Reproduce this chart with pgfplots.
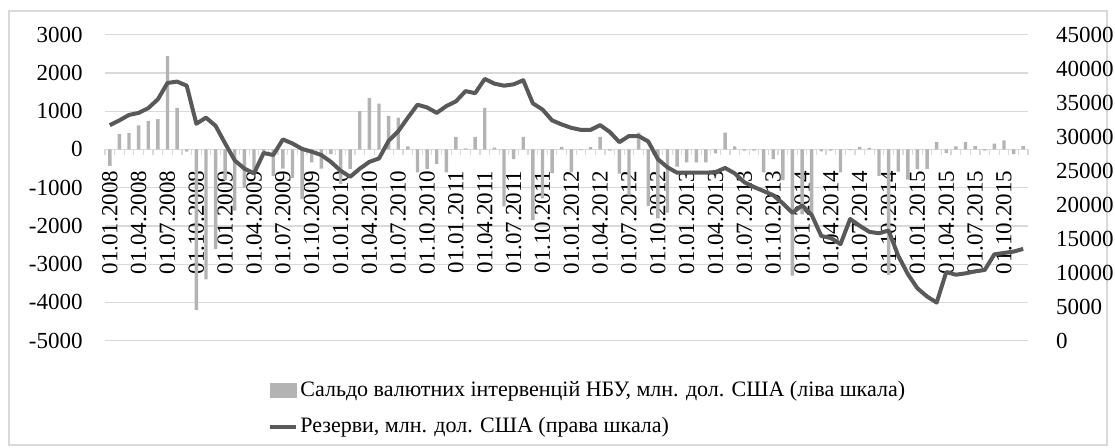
\documentclass[border=0pt]{standalone}
\usepackage{fontspec}
\setmainfont{Liberation Serif}
\usepackage{pgfplots}
\pgfplotsset{compat=1.18}
\usepackage{pgfplotstable}
\definecolor{barcol}{HTML}{B3B3B3}
\definecolor{linecol}{HTML}{595959}
\definecolor{gridcol}{HTML}{D9D9D9}

\pgfplotstableread{
i v
0 -430
1 400
2 430
3 630
4 740
5 790
6 2440
7 1090
8 -60
9 -4200
10 -3400
11 -2600
12 -800
13 -1600
14 -1000
15 -650
16 -110
17 -690
18 -500
19 -750
20 -1300
21 -340
22 -500
23 -120
24 -900
25 -510
26 1000
27 1340
28 1200
29 880
30 830
31 80
32 -600
33 -510
34 -380
35 -600
36 330
37 30
38 330
39 1090
40 50
41 -1490
42 -250
43 330
44 -1850
45 -1280
46 -620
47 70
48 -600
49 -20
50 60
51 330
52 -30
53 -630
54 -1200
55 440
56 -1480
57 -1800
58 -1650
59 -450
60 -340
61 -340
62 -340
63 -100
64 440
65 80
66 -30
67 -30
68 -600
69 -250
70 -800
71 -3300
72 -1700
73 -1700
74 -50
75 -30
76 -600
77 -20
78 70
79 40
80 -690
81 -3280
82 -580
83 -790
84 -510
85 -510
86 190
87 -90
88 80
89 190
90 90
91 -30
92 150
93 240
94 -120
95 90
}\bars

\pgfplotstableread{
i v
0 31700
1 32400
2 33200
3 33500
4 34200
5 35500
6 37900
7 38100
8 37500
9 31900
10 32800
11 31600
12 29000
13 26500
14 25300
15 24600
16 27600
17 27300
18 29600
19 29000
20 28200
21 27800
22 27300
23 26300
24 25000
25 24100
26 25300
27 26300
28 26800
29 29400
30 30800
31 32800
32 34700
33 34300
34 33500
35 34500
36 35200
37 36700
38 36400
39 38500
40 37800
41 37500
42 37700
43 38300
44 34900
45 34000
46 32400
47 31800
48 31300
49 31000
50 31000
51 31700
52 30700
53 29200
54 30100
55 30100
56 29300
57 26700
58 25500
59 24700
60 24700
61 24700
62 24700
63 24800
64 25400
65 24600
66 23300
67 22600
68 22000
69 21400
70 20200
71 18800
72 19900
73 18500
74 15400
75 15100
76 14200
77 17900
78 16900
79 16000
80 15800
81 16200
82 12500
83 9800
84 7700
85 6500
86 5600
87 10100
88 9700
89 9900
90 10200
91 10400
92 12700
93 12900
94 13100
95 13500
}\reserves

\begin{document}
\begin{tikzpicture}
\path[use as bounding box] (0,0) rectangle (557.5pt,224pt);
\draw[gridcol, line width=0.6pt] (4.5pt,1.5pt) rectangle (553.5pt,218.5pt);
\begin{axis}[
  at={(52.5pt,53.65pt)}, anchor=south west,
  scale only axis, width=461.5pt, height=153pt,
  xmin=-0.5, xmax=95.5, ymin=-5000, ymax=3000,
  axis x line*=middle, axis y line*=left,
  hide obscured y ticks=false, hide obscured x ticks=false,
  x axis line style={draw=gridcol, line width=0.6pt, -},
  y axis line style={draw=none},
  ytick={-5000,-4000,...,3000},
  scaled y ticks=false,
  ymajorgrids, grid style={draw=gridcol, line width=0.6pt},
  xtick={0,3,...,93},
  xticklabels={01.01.2008,01.04.2008,01.07.2008,01.10.2008,
    01.01.2009,01.04.2009,01.07.2009,01.10.2009,
    01.01.2010,01.04.2010,01.07.2010,01.10.2010,
    01.01.2011,01.04.2011,01.07.2011,01.10.2011,
    01.01.2012,01.04.2012,01.07.2012,01.10.2012,
    01.01.2013,01.04.2013,01.07.2013,01.10.2013,
    01.01.2014,01.04.2014,01.07.2014,01.10.2014,
    01.01.2015,01.04.2015,01.07.2015,01.10.2015},
  minor xtick={-0.5,0.5,...,95.5},
  major tick length=0pt, minor tick length=3pt,
  tick align=outside,
  minor tick style={draw=gridcol, line width=0.6pt},
  /pgf/number format/assume math mode=true,
  /pgf/number format/1000 sep={},
  tick label style={font=\fontsize{11.5}{13}\selectfont},
  yticklabel style={inner sep=0pt, anchor=east, xshift=-11pt},
  xticklabel style={yshift=-10.5pt, rotate=90, anchor=east, inner sep=0pt},
  clip=false,
]
\addplot[ybar, bar width=1.7pt, fill=barcol, draw=none] table[x=i,y=v]{\bars};
\end{axis}
\begin{axis}[
  at={(52.5pt,53.65pt)}, anchor=south west,
  scale only axis, width=461.5pt, height=153pt,
  xmin=-0.5, xmax=95.5, ymin=0, ymax=45000,
  axis x line=none, axis y line*=right,
  y axis line style={draw=none},
  ytick={0,5000,...,45000},
  scaled y ticks=false,
  major tick length=0pt,
  /pgf/number format/assume math mode=true,
  /pgf/number format/1000 sep={},
  tick label style={font=\fontsize{11.5}{13}\selectfont},
  yticklabel style={inner sep=0pt, anchor=west, xshift=13.8pt},
  legend style={at={(0.1766,-0.125)}, anchor=north west, draw=none, fill=none,
    font=\fontsize{11}{12.5}\selectfont, inner sep=0pt, row sep=7pt,
    nodes={inner sep=1pt}},
  legend cell align=left,
  clip=false,
]
\addlegendimage{legend image code/.code={\fill[barcol] (0pt,-3.5pt) rectangle (13pt,3.5pt);}}
\addlegendentry{Сальдо валютних інтервенцій НБУ, млн. дол. США (ліва шкала)}
\addplot[linecol, line width=2pt, line join=round,
  legend image code/.code={\draw[linecol, line width=2pt] (0pt,0pt) -- (13pt,0pt);}]
  table[x=i,y=v]{\reserves};
\addlegendentry{Резерви, млн. дол. США (права шкала)}
\end{axis}
\end{tikzpicture}
\end{document}
